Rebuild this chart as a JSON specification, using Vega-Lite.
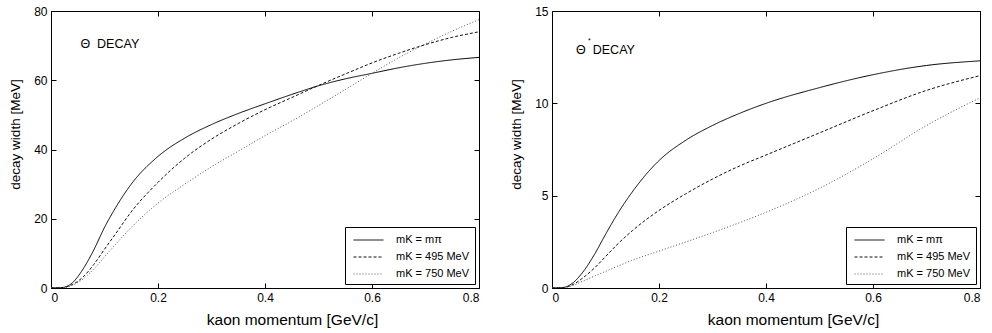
{
  "$schema": "https://vega.github.io/schema/vega-lite/v6.json",
  "background": "white",
  "padding": {"left": 7, "top": 4, "right": 6, "bottom": 4},
  "spacing": 73,
  "bounds": "flush",
  "config": {
    "font": "Liberation Sans",
    "view": {"stroke": "black", "strokeWidth": 1},
    "axis": {"domain": false, "grid": false, "tickSize": -5, "tickColor": "black", "labelColor": "black", "labelFontSize": 12, "titleFontWeight": "normal", "titleColor": "black", "labelPadding": 9},
    "axisBottom": {"titleFontSize": 15.5, "titleX": 241, "titleY": 31, "titleBaseline": "middle", "titleAlign": "center"},
    "axisLeft": {"titleFontSize": 13.5, "titleX": -36, "titleY": 123, "titleBaseline": "middle", "titleAlign": "center", "titleAngle": -90},
    "legend": {"orient": "bottom-right", "offset": 4, "strokeColor": "black", "fillColor": "white", "padding": 5, "symbolType": "M-1,0H3", "symbolSize": 225, "symbolStrokeWidth": 1, "symbolOffset": 3, "labelFontSize": 11, "labelColor": "black", "rowPadding": 4, "labelOffset": 27, "cornerRadius": 0}
  },
  "datasets": {
    "theta": [
      {"p": 0, "w": 0, "s": "mK = mπ"}, {"p": 0.02, "w": 0.1, "s": "mK = mπ"}, {"p": 0.04, "w": 1.5, "s": "mK = mπ"}, {"p": 0.06, "w": 5.5, "s": "mK = mπ"}, {"p": 0.08, "w": 11, "s": "mK = mπ"}, {"p": 0.1, "w": 17.5, "s": "mK = mπ"}, {"p": 0.12, "w": 23, "s": "mK = mπ"}, {"p": 0.15, "w": 30, "s": "mK = mπ"}, {"p": 0.2, "w": 38, "s": "mK = mπ"}, {"p": 0.25, "w": 43.3, "s": "mK = mπ"}, {"p": 0.3, "w": 47.2, "s": "mK = mπ"}, {"p": 0.35, "w": 50.4, "s": "mK = mπ"}, {"p": 0.4, "w": 53.2, "s": "mK = mπ"}, {"p": 0.45, "w": 55.9, "s": "mK = mπ"}, {"p": 0.5, "w": 58.4, "s": "mK = mπ"}, {"p": 0.55, "w": 60.4, "s": "mK = mπ"}, {"p": 0.6, "w": 62, "s": "mK = mπ"}, {"p": 0.65, "w": 63.6, "s": "mK = mπ"}, {"p": 0.7, "w": 64.9, "s": "mK = mπ"}, {"p": 0.75, "w": 65.9, "s": "mK = mπ"}, {"p": 0.8, "w": 66.6, "s": "mK = mπ"},
      {"p": 0, "w": 0, "s": "mK = 495 MeV"}, {"p": 0.02, "w": 0.1, "s": "mK = 495 MeV"}, {"p": 0.04, "w": 1, "s": "mK = 495 MeV"}, {"p": 0.06, "w": 3.2, "s": "mK = 495 MeV"}, {"p": 0.08, "w": 6.8, "s": "mK = 495 MeV"}, {"p": 0.1, "w": 11.2, "s": "mK = 495 MeV"}, {"p": 0.12, "w": 15.5, "s": "mK = 495 MeV"}, {"p": 0.15, "w": 22, "s": "mK = 495 MeV"}, {"p": 0.2, "w": 30.5, "s": "mK = 495 MeV"}, {"p": 0.25, "w": 37.5, "s": "mK = 495 MeV"}, {"p": 0.3, "w": 43, "s": "mK = 495 MeV"}, {"p": 0.35, "w": 47.5, "s": "mK = 495 MeV"}, {"p": 0.4, "w": 51.5, "s": "mK = 495 MeV"}, {"p": 0.45, "w": 55, "s": "mK = 495 MeV"}, {"p": 0.5, "w": 58.5, "s": "mK = 495 MeV"}, {"p": 0.55, "w": 61.8, "s": "mK = 495 MeV"}, {"p": 0.6, "w": 65, "s": "mK = 495 MeV"}, {"p": 0.65, "w": 67.8, "s": "mK = 495 MeV"}, {"p": 0.7, "w": 70.3, "s": "mK = 495 MeV"}, {"p": 0.75, "w": 72.4, "s": "mK = 495 MeV"}, {"p": 0.8, "w": 74, "s": "mK = 495 MeV"},
      {"p": 0, "w": 0, "s": "mK = 750 MeV"}, {"p": 0.02, "w": 0.1, "s": "mK = 750 MeV"}, {"p": 0.04, "w": 0.8, "s": "mK = 750 MeV"}, {"p": 0.06, "w": 2.6, "s": "mK = 750 MeV"}, {"p": 0.08, "w": 5.5, "s": "mK = 750 MeV"}, {"p": 0.1, "w": 9, "s": "mK = 750 MeV"}, {"p": 0.12, "w": 12.5, "s": "mK = 750 MeV"}, {"p": 0.15, "w": 17.5, "s": "mK = 750 MeV"}, {"p": 0.2, "w": 24.5, "s": "mK = 750 MeV"}, {"p": 0.25, "w": 30, "s": "mK = 750 MeV"}, {"p": 0.3, "w": 35, "s": "mK = 750 MeV"}, {"p": 0.35, "w": 39.5, "s": "mK = 750 MeV"}, {"p": 0.4, "w": 44, "s": "mK = 750 MeV"}, {"p": 0.45, "w": 48.2, "s": "mK = 750 MeV"}, {"p": 0.5, "w": 52.7, "s": "mK = 750 MeV"}, {"p": 0.55, "w": 57.3, "s": "mK = 750 MeV"}, {"p": 0.6, "w": 62, "s": "mK = 750 MeV"}, {"p": 0.65, "w": 66.5, "s": "mK = 750 MeV"}, {"p": 0.7, "w": 70.5, "s": "mK = 750 MeV"}, {"p": 0.75, "w": 74.2, "s": "mK = 750 MeV"}, {"p": 0.8, "w": 77.5, "s": "mK = 750 MeV"}
    ],
    "thetastar": [
      {"p": 0, "w": 0, "s": "mK = mπ"}, {"p": 0.02, "w": 0.02, "s": "mK = mπ"}, {"p": 0.04, "w": 0.3, "s": "mK = mπ"}, {"p": 0.06, "w": 0.95, "s": "mK = mπ"}, {"p": 0.08, "w": 1.85, "s": "mK = mπ"}, {"p": 0.1, "w": 2.9, "s": "mK = mπ"}, {"p": 0.12, "w": 3.9, "s": "mK = mπ"}, {"p": 0.15, "w": 5.2, "s": "mK = mπ"}, {"p": 0.2, "w": 6.9, "s": "mK = mπ"}, {"p": 0.25, "w": 8.0, "s": "mK = mπ"}, {"p": 0.3, "w": 8.8, "s": "mK = mπ"}, {"p": 0.35, "w": 9.45, "s": "mK = mπ"}, {"p": 0.4, "w": 10.0, "s": "mK = mπ"}, {"p": 0.5, "w": 10.85, "s": "mK = mπ"}, {"p": 0.6, "w": 11.55, "s": "mK = mπ"}, {"p": 0.7, "w": 12.05, "s": "mK = mπ"}, {"p": 0.8, "w": 12.3, "s": "mK = mπ"},
      {"p": 0, "w": 0, "s": "mK = 495 MeV"}, {"p": 0.02, "w": 0.02, "s": "mK = 495 MeV"}, {"p": 0.04, "w": 0.2, "s": "mK = 495 MeV"}, {"p": 0.06, "w": 0.6, "s": "mK = 495 MeV"}, {"p": 0.08, "w": 1.1, "s": "mK = 495 MeV"}, {"p": 0.1, "w": 1.7, "s": "mK = 495 MeV"}, {"p": 0.12, "w": 2.3, "s": "mK = 495 MeV"}, {"p": 0.15, "w": 3.1, "s": "mK = 495 MeV"}, {"p": 0.2, "w": 4.2, "s": "mK = 495 MeV"}, {"p": 0.25, "w": 5.1, "s": "mK = 495 MeV"}, {"p": 0.3, "w": 5.9, "s": "mK = 495 MeV"}, {"p": 0.35, "w": 6.6, "s": "mK = 495 MeV"}, {"p": 0.4, "w": 7.2, "s": "mK = 495 MeV"}, {"p": 0.5, "w": 8.4, "s": "mK = 495 MeV"}, {"p": 0.6, "w": 9.6, "s": "mK = 495 MeV"}, {"p": 0.7, "w": 10.7, "s": "mK = 495 MeV"}, {"p": 0.8, "w": 11.5, "s": "mK = 495 MeV"},
      {"p": 0, "w": 0, "s": "mK = 750 MeV"}, {"p": 0.02, "w": 0.02, "s": "mK = 750 MeV"}, {"p": 0.04, "w": 0.15, "s": "mK = 750 MeV"}, {"p": 0.06, "w": 0.4, "s": "mK = 750 MeV"}, {"p": 0.08, "w": 0.65, "s": "mK = 750 MeV"}, {"p": 0.1, "w": 0.9, "s": "mK = 750 MeV"}, {"p": 0.15, "w": 1.5, "s": "mK = 750 MeV"}, {"p": 0.2, "w": 2.0, "s": "mK = 750 MeV"}, {"p": 0.3, "w": 3.0, "s": "mK = 750 MeV"}, {"p": 0.4, "w": 4.1, "s": "mK = 750 MeV"}, {"p": 0.5, "w": 5.4, "s": "mK = 750 MeV"}, {"p": 0.6, "w": 7.0, "s": "mK = 750 MeV"}, {"p": 0.7, "w": 8.8, "s": "mK = 750 MeV"}, {"p": 0.8, "w": 10.3, "s": "mK = 750 MeV"}
    ]
  },
  "resolve": {"scale": {"color": "independent", "strokeDash": "independent"}, "legend": {"color": "independent", "strokeDash": "independent"}},
  "hconcat": [
    {
      "width": 428, "height": 277,
      "resolve": {"axis": {"x": "independent", "y": "independent"}},
      "layer": [
        {
          "data": {"name": "theta"},
          "mark": {"type": "line", "strokeWidth": 1, "interpolate": "monotone", "clip": true},
          "encoding": {
            "x": {"field": "p", "type": "quantitative", "scale": {"domain": [0, 0.8], "nice": false}, "axis": {"orient": "bottom", "title": "kaon momentum [GeV/c]", "values": [0, 0.2, 0.4, 0.6, 0.8], "format": "~g"}},
            "y": {"field": "w", "type": "quantitative", "scale": {"domain": [0, 80], "nice": false}, "axis": {"orient": "left", "title": "decay width [MeV]", "values": [0, 20, 40, 60, 80]}},
            "color": {"field": "s", "type": "nominal", "scale": {"domain": ["mK = mπ", "mK = 495 MeV", "mK = 750 MeV"], "range": ["#000000", "#111111", "#555555"]}, "legend": {"title": null}},
            "strokeDash": {"field": "s", "type": "nominal", "scale": {"domain": ["mK = mπ", "mK = 495 MeV", "mK = 750 MeV"], "range": [[1, 0], [3, 2], [1, 2]]}, "legend": {"title": null}}
          }
        },
        {
          "data": {"values": [{"p": 0.055, "w": 70.5, "t": "Θ\u00a0\u00a0DECAY"}]},
          "mark": {"type": "text", "align": "left", "baseline": "middle", "fontSize": 12.5, "color": "black"},
          "encoding": {
            "x": {"field": "p", "type": "quantitative", "axis": {"orient": "top", "title": null, "labels": false, "values": [0, 0.2, 0.4, 0.6, 0.8]}},
            "y": {"field": "w", "type": "quantitative", "axis": {"orient": "right", "title": null, "labels": false, "values": [0, 20, 40, 60, 80]}},
            "text": {"field": "t"}
          }
        }
      ]
    },
    {
      "width": 428, "height": 277,
      "resolve": {"axis": {"x": "independent", "y": "independent"}},
      "layer": [
        {
          "data": {"name": "thetastar"},
          "mark": {"type": "line", "strokeWidth": 1, "interpolate": "monotone", "clip": true},
          "encoding": {
            "x": {"field": "p", "type": "quantitative", "scale": {"domain": [0, 0.8], "nice": false}, "axis": {"orient": "bottom", "title": "kaon momentum [GeV/c]", "values": [0, 0.2, 0.4, 0.6, 0.8], "format": "~g"}},
            "y": {"field": "w", "type": "quantitative", "scale": {"domain": [0, 15], "nice": false}, "axis": {"orient": "left", "title": "decay width [MeV]", "values": [0, 5, 10, 15]}},
            "color": {"field": "s", "type": "nominal", "scale": {"domain": ["mK = mπ", "mK = 495 MeV", "mK = 750 MeV"], "range": ["#000000", "#111111", "#555555"]}, "legend": {"title": null}},
            "strokeDash": {"field": "s", "type": "nominal", "scale": {"domain": ["mK = mπ", "mK = 495 MeV", "mK = 750 MeV"], "range": [[1, 0], [3, 2], [1, 2]]}, "legend": {"title": null}}
          }
        },
        {
          "data": {"values": [{"p": 0.045, "w": 12.9, "t": "Θ\u00a0\u00a0DECAY"}]},
          "mark": {"type": "text", "align": "left", "baseline": "middle", "fontSize": 12.5, "color": "black"},
          "encoding": {
            "x": {"field": "p", "type": "quantitative", "axis": {"orient": "top", "title": null, "labels": false, "values": [0, 0.2, 0.4, 0.6, 0.8]}},
            "y": {"field": "w", "type": "quantitative", "axis": {"orient": "right", "title": null, "labels": false, "values": [0, 5, 10, 15]}},
            "text": {"field": "t"}
          }
        },
        {
          "data": {"values": [{"p": 0.045, "w": 12.9, "t": "*"}]},
          "mark": {"type": "text", "align": "left", "baseline": "middle", "fontSize": 7, "dx": 12, "dy": -9, "color": "black"},
          "encoding": {
            "x": {"field": "p", "type": "quantitative", "axis": null},
            "y": {"field": "w", "type": "quantitative", "axis": null},
            "text": {"field": "t"}
          }
        }
      ]
    }
  ]
}
